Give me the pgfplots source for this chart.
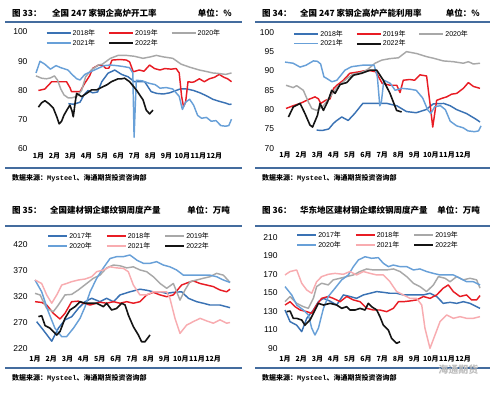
\documentclass[border=0pt]{standalone}
\usepackage{pgfplots}
\pgfplotsset{compat=1.18}
\usepackage{fontspec}
\setmainfont{Liberation Sans}
\newfontfamily\cjk{Noto Sans CJK SC}
\newfontfamily\monob{Liberation Mono}
\definecolor{cA}{RGB}{58,114,180}
\definecolor{cL}{RGB}{104,160,216}
\definecolor{cR}{RGB}{232,28,36}
\definecolor{cG}{RGB}{168,168,168}
\definecolor{cP}{RGB}{248,172,176}
\definecolor{cK}{RGB}{20,20,20}
\definecolor{rule}{RGB}{68,108,158}
\newcommand{\nian}{{\cjk 年}}
\pgfplotsset{
  panel/.style={
    scale only axis, clip=false, anchor=south west,
    axis line style={draw=none}, tick style={draw=none}, major tick length=0pt,
    xmin=0.85, xmax=13.1, xtick={1,...,12},
    xticklabels={1月,2月,3月,4月,5月,6月,7月,8月,9月,10月,11月,12月},
    /pgf/number format/assume math mode=true,
    yticklabel style={font=\fontsize{8.5}{9}\selectfont},
    xticklabel style={font=\cjk\bfseries\fontsize{7}{8}\selectfont},
    legend columns=3, legend cell align=left,
    legend style={draw=none, fill=none, inner sep=0pt, anchor=north west,
      font=\fontsize{7}{8}\selectfont, row sep=0pt,
      nodes={inner sep=1.2pt}},
    every axis plot/.append style={line width=1.45pt, mark=none, line join=round},
  },
}
\begin{document}
\begin{tikzpicture}[x=1pt,y=1pt]
\fill[white] (0,0) rectangle (500,-393);
\useasboundingbox (0,0) rectangle (500,-393);
\tikzset{ttl/.style={font=\cjk\bfseries\fontsize{8.5}{9}\selectfont, inner sep=0pt},
         src/.style={font=\bfseries\fontsize{7}{8}\selectfont, inner sep=0pt, anchor=west}}
% panel 1
\node[ttl,anchor=west] at (12,-13) {图\ 33：};
\node[ttl,anchor=west] at (52,-13) {全国 247 家钢企高炉开工率};
\node[ttl,anchor=east] at (232,-13) {单位：\%};
\draw[rule,line width=1.8pt] (5,-22) -- (242,-22);
\draw[rule,line width=1.8pt] (5,-168) -- (242,-168);
\node[src] at (12,-178) {{\cjk 数据来源：}{\monob\bfseries Mysteel}{\cjk 、海通期货投资咨询部}};
% panel 2
\node[ttl,anchor=west] at (262,-13) {图\ 34：};
\node[ttl,anchor=west] at (300,-13) {全国 247 家钢企高炉产能利用率};
\node[ttl,anchor=east] at (480,-13) {单位：\%};
\draw[rule,line width=1.8pt] (255,-22) -- (490,-22);
\draw[rule,line width=1.8pt] (255,-168) -- (490,-168);
\node[src] at (262,-178) {{\cjk 数据来源：}{\monob\bfseries Mysteel}{\cjk 、海通期货投资咨询部}};
% panel 3
\node[ttl,anchor=west] at (12,-210) {图\ 35：};
\node[ttl,anchor=west] at (50,-210) {全国建材钢企螺纹钢周度产量};
\node[ttl,anchor=east] at (230,-210) {单位：万吨};
\draw[rule,line width=1.8pt] (5,-226) -- (242,-226);
\draw[rule,line width=1.8pt] (5,-368) -- (242,-368);
\node[src] at (12,-378) {{\cjk 数据来源：}{\monob\bfseries Mysteel}{\cjk 、海通期货投资咨询部}};
% panel 4
\node[ttl,anchor=west] at (262,-210) {图\ 36：};
\node[ttl,anchor=west] at (300,-210) {华东地区建材钢企螺纹钢周度产量};
\node[ttl,anchor=east] at (480,-210) {单位：万吨};
\draw[rule,line width=1.8pt] (255,-226) -- (490,-226);
\draw[rule,line width=1.8pt] (255,-368) -- (490,-368);
\node[src] at (262,-378) {{\cjk 数据来源：}{\monob\bfseries Mysteel}{\cjk 、海通期货投资咨询部}};
\node[font=\cjk\bfseries\fontsize{10}{11}\selectfont, text=black!25, anchor=east] at (482,-370) {海通期货};

% ================= AXIS 1
\begin{axis}[panel, at={(36pt,-149pt)}, width=196pt, height=117pt,
  ymin=60, ymax=100, ytick={60,70,80,90,100}, yticklabel style={xshift=-5pt},
  legend style={at={(axis description cs:0.05,1.035)},
    /tikz/every even column/.append style={column sep=12pt}},
  legend image code/.code={\draw[#1] (0pt,0pt)--(24pt,0pt);}]
\addplot[cA] coordinates {(2.87,75.5)(3.2,75.3)(3.6,76)(3.85,78.5)(4.1,80)(4.4,79.2)(4.7,79.5)(4.96,83)(5.35,85.9)(5.77,87)(6.2,85.5)(6.6,84.7)(7.0,83)(7.64,83)(8.05,79.6)(8.4,79)(8.8,78.8)(9.2,79.2)(9.6,80)(9.9,80.6)(10.3,80.5)(10.7,80)(11.1,79.2)(11.5,78.2)(11.9,77)(12.3,76.3)(12.7,75.7)(12.95,75.2)(13.07,75.4)};
\addlegendentry{2018\nian}
\addplot[cR] coordinates {(1.0,80)(1.4,80.5)(1.83,83)(2.3,83)(2.76,83)(2.97,81)(3.07,79.6)(3.35,79.6)(3.6,79.6)(3.9,82.5)(4.2,85)(4.4,87.6)(4.76,88.7)(5.0,88.7)(5.2,87.6)(5.4,87.6)(5.6,90.4)(6.1,90.6)(6.5,90.4)(6.7,89.8)(6.93,86.4)(7.3,87)(7.6,86.6)(7.95,88.7)(8.26,87.5)(8.6,87)(8.9,87.5)(9.3,87.3)(9.61,87.5)(9.8,86)(9.95,78)(10.07,74.5)(10.2,76)(10.35,83)(10.6,82.8)(10.75,83)(11.06,84)(11.37,83)(11.68,84)(12.0,84.5)(12.3,85.5)(12.6,84.5)(12.83,84)(13.07,83)};
\addlegendentry{2019\nian}
\addplot[cG] coordinates {(0.85,85)(1.2,84.2)(1.5,84)(1.75,84.3)(2.0,85)(2.2,83.5)(2.4,80.5)(2.6,78.5)(2.85,77.5)(3.1,77.5)(3.4,78)(3.7,80)(3.95,84.7)(4.3,87)(4.75,88.7)(5.0,89)(5.5,91)(5.98,92)(6.5,92)(7.0,91.7)(7.54,91)(8.0,91.5)(8.37,92)(8.8,91.5)(9.4,91)(9.92,89)(10.44,88)(11.06,87)(11.5,86.5)(11.89,86)(12.3,85.8)(12.7,85.5)(13.07,86)};
\addlegendentry{2020\nian}
\addplot[cL] coordinates {(0.85,86)(1.1,90)(1.4,89)(1.75,87.3)(2.1,88.5)(2.4,87.8)(2.85,87)(3.1,85.5)(3.4,84)(3.6,83.6)(3.9,85.5)(4.3,86.5)(4.7,87.5)(5.1,88.5)(5.5,88.7)(5.9,88.5)(6.3,88.2)(6.7,87.8)(6.9,86)(6.98,64)(7.05,74)(7.12,83.5)(7.5,83.3)(7.9,82.5)(8.3,82)(8.6,80.8)(9.0,81)(9.4,80.5)(9.8,78)(10.0,73.5)(10.2,76)(10.45,77)(10.7,75)(10.95,71.5)(11.2,70.5)(11.5,70.8)(11.8,69.5)(12.1,69.7)(12.4,68)(12.7,67.8)(12.9,68)(13.07,70.2)};
\addlegendentry{2021\nian}
\addplot[cK, line width=1.6pt] coordinates {(1.0,74.3)(1.2,75.8)(1.41,76.5)(1.65,75.5)(1.93,74)(2.15,71)(2.3,68.6)(2.45,69.5)(2.6,71.6)(2.8,73.5)(2.97,75)(3.1,73)(3.18,71)(3.3,76)(3.39,79)(3.7,77.9)(4.01,79)(4.32,80.2)(4.63,80.2)(5.04,81.3)(5.3,82)(5.56,83)(5.98,84)(6.2,84)(6.39,84.2)(6.7,83)(7.12,80.2)(7.54,76.8)(7.74,73.3)(7.95,72)(8.16,73.3)};
\addlegendentry{2022\nian}
\end{axis}

% ================= AXIS 2
\begin{axis}[panel, at={(282.6pt,-148.3pt)}, width=198.4pt, height=116pt,
  ymin=70, ymax=100, ytick={70,75,80,85,90,95,100}, yticklabel style={xshift=-5pt},
  legend style={at={(axis description cs:0.055,1.03)},
    /tikz/every even column/.append style={column sep=12pt}},
  legend image code/.code={\draw[#1] (0pt,0pt)--(24pt,0pt);}]
\addplot[cA] coordinates {(2.95,74.7)(3.3,74.6)(3.7,75)(4.0,76.5)(4.2,77.2)(4.5,78.1)(4.9,77.2)(5.3,79)(5.8,81.6)(6.5,81.6)(7.3,81.6)(7.9,81)(8.5,79.5)(9.1,79.2)(9.7,80)(10.16,81.5)(10.8,81.6)(11.2,81)(11.6,80)(12.2,79)(12.8,77.5)(13.04,76.8)};
\addlegendentry{2018\nian}
\addplot[cR] coordinates {(1.06,80.3)(1.5,81)(1.93,81.6)(2.44,82.6)(2.85,83.3)(3.06,82.8)(3.2,81.6)(3.5,82.4)(3.78,82.8)(4.0,85.5)(4.2,86.3)(4.6,87.6)(5.0,89.4)(5.6,89.8)(6.1,90.2)(6.6,89.8)(7.0,86.8)(7.5,86.3)(7.9,86.3)(8.1,84.4)(8.3,87.6)(8.7,87.8)(9.0,87.6)(9.33,89)(9.74,88.7)(9.95,81.6)(10.12,75.5)(10.36,82.4)(10.67,82.9)(10.98,83.3)(11.29,84)(11.6,84.2)(12.01,85.5)(12.32,87)(12.63,86)(13.04,85.5)};
\addlegendentry{2019\nian}
\addplot[cG] coordinates {(1.06,86.3)(1.5,85.7)(1.72,86.2)(2.13,85)(2.44,82)(2.65,80.3)(2.95,79.8)(3.37,81)(3.78,83.3)(4.19,85.7)(4.6,87.2)(4.81,88)(5.2,89.2)(5.63,89.5)(6.04,90.2)(6.56,92)(6.97,92.8)(7.48,93.2)(8.0,93.4)(8.5,95)(9.13,94.5)(9.74,93.7)(10.16,93.3)(10.77,92.6)(11.39,92.4)(12.01,92)(12.32,92.4)(12.63,91.8)(13.04,92)};
\addlegendentry{2020\nian}
\addplot[cL] coordinates {(1.0,92.3)(1.5,92)(1.93,91)(2.3,91.5)(2.75,92.6)(3.0,92.5)(3.2,91.8)(3.4,88.5)(3.6,88)(3.9,87.2)(4.2,87.6)(4.7,90.2)(5.1,91.1)(5.8,91.5)(6.5,91.5)(6.7,88.5)(6.85,81)(6.95,82)(7.1,87.6)(7.5,86.8)(7.8,85)(8.2,85.5)(8.7,85.3)(9.1,85)(9.5,83)(9.8,80)(10.0,79)(10.25,80.8)(10.6,81)(10.9,80)(11.2,77)(11.6,75.8)(12.0,75.3)(12.3,74.5)(12.7,74.3)(12.95,74.5)(13.1,75.8)};
\addlegendentry{2021\nian}
\addplot[cK, line width=1.6pt] coordinates {(1.21,78.1)(1.51,80.7)(1.93,81.6)(2.23,79)(2.54,76)(2.7,75.5)(3.0,78.5)(3.16,81.6)(3.37,79.8)(3.67,82.4)(3.88,85)(4.09,84.2)(4.4,86.5)(4.81,87)(5.22,88.9)(5.73,89.4)(6.25,90.2)(6.66,90.2)(7.07,87.6)(7.48,84.2)(7.89,79.8)(8.2,79.4)};
\addlegendentry{2022\nian}
\end{axis}

% ================= AXIS 3
\begin{axis}[panel, at={(32.6pt,-349pt)}, width=198.4pt, height=104pt,
  ymin=220, ymax=420, ytick={220,270,320,370,420}, yticklabel style={xshift=-1.5pt},
  xticklabel style={yshift=-3.5pt},
  legend style={at={(axis description cs:0.075,1.135)},
    /tikz/every even column/.append style={column sep=13pt}},
  legend image code/.code={\draw[#1] (0pt,0pt)--(19pt,0pt);}]
\addplot[cA] coordinates {(1.1,272.6)(1.51,256.5)(2.03,235)(2.44,260)(2.85,276)(3.26,282)(3.67,298)(4.09,311)(4.5,317.5)(5.01,311)(5.42,317.5)(5.84,311)(6.25,324)(6.86,330)(7.48,335)(7.89,333)(8.3,330)(8.72,330)(9.13,327)(9.54,329)(10.05,330)(10.47,317.5)(10.98,311)(11.39,308)(11.8,304.6)(12.42,304.6)(13.04,299.5)};
\addlegendentry{2017\nian}
\addplot[cR] coordinates {(1.0,311)(1.41,309.5)(1.72,304.6)(2.13,288.6)(2.54,277.7)(2.85,288.6)(3.26,311)(3.67,312)(3.98,308)(4.4,304.6)(5.01,310)(5.42,308)(5.84,311)(6.25,308)(6.66,311)(7.07,308)(7.48,311)(7.89,324)(8.3,329)(8.72,324)(9.13,320.6)(9.54,324)(10.05,343)(10.47,348)(10.77,351)(11.19,346)(11.6,343)(12.01,340)(12.42,333.5)(12.83,330)(13.04,335)};
\addlegendentry{2018\nian}
\addplot[cG] coordinates {(1.0,327)(1.31,324)(1.72,298)(2.13,291.8)(2.44,304.6)(2.85,324)(3.26,325)(3.67,333.5)(4.19,346)(4.6,356)(5.01,362)(5.42,376)(5.84,381.5)(6.25,380)(6.66,376)(7.07,378)(7.48,372)(7.89,368.7)(8.3,359)(8.72,346)(9.13,336.7)(9.54,346)(9.95,314)(10.26,333.5)(10.57,349.5)(10.98,352.7)(11.39,356)(11.8,359)(12.21,365.5)(12.63,362)(13.04,348)};
\addlegendentry{2019\nian}
\addplot[cL] coordinates {(1.0,352.7)(1.41,330)(1.82,291.8)(2.23,260)(2.65,243.7)(2.95,243.7)(3.37,260)(3.78,279)(4.09,301.4)(4.4,330)(4.81,356)(5.22,376)(5.63,394)(6.04,397.6)(6.45,397.6)(6.86,400.8)(7.28,391)(7.69,384.7)(8.1,384.7)(8.51,388)(8.92,381.5)(9.33,378)(9.74,372)(10.16,362)(10.57,362)(10.98,362)(11.39,362)(11.8,362)(12.21,359)(12.63,352.7)(13.04,348)};
\addlegendentry{2020\nian}
\addplot[cP] coordinates {(1.0,352.7)(1.41,346)(1.72,324)(2.03,308)(2.34,324)(2.65,343)(2.95,346)(3.26,349.5)(3.67,352.7)(4.09,354.6)(4.5,359)(4.81,368.7)(5.22,372)(5.63,378)(6.04,376)(6.45,375)(6.76,368.7)(7.07,343)(7.48,324)(7.89,324)(8.3,330)(8.72,330)(9.13,330)(9.33,317.5)(9.64,279)(9.95,250)(10.36,266)(10.77,272.6)(11.19,279)(11.6,274)(12.01,269.6)(12.42,276)(12.83,269.6)(13.04,271)};
\addlegendentry{2021\nian}
\addplot[cK, line width=1.6pt] coordinates {(1.21,282.2)(1.41,284)(1.62,265)(1.93,260)(2.13,253.5)(2.34,247)(2.54,253.5)(2.85,279)(3.16,295)(3.47,301.4)(3.78,311)(4.09,308)(4.4,308)(4.81,308)(5.22,301.4)(5.42,308)(5.73,295)(6.04,298)(6.35,308)(6.56,304.6)(6.76,285.4)(7.07,263)(7.38,247)(7.58,234)(7.79,234)(8.1,247)};
\addlegendentry{2022\nian}
\end{axis}

% ================= AXIS 4
\begin{axis}[panel, at={(282.6pt,-348.3pt)}, width=198.4pt, height=111pt,
  ymin=90, ymax=210, ytick={90,110,130,150,170,190,210}, yticklabel style={xshift=-1.5pt},
  xticklabel style={yshift=-3.5pt},
  legend style={at={(axis description cs:0.07,1.065)},
    /tikz/every even column/.append style={column sep=13pt}},
  legend image code/.code={\draw[#1] (0pt,0pt)--(19pt,0pt);}]
\addplot[cA] coordinates {(1.0,131.4)(1.31,118.8)(1.72,115)(2.03,108)(2.34,122.4)(2.75,131.4)(3.06,140.4)(3.37,144)(3.78,141)(4.19,136.8)(4.6,147.7)(5.01,146)(5.42,144)(5.84,147.7)(6.25,149.5)(6.66,151.3)(7.07,150.5)(7.48,149.5)(7.89,149.5)(8.3,147.7)(8.72,147.7)(9.13,147.7)(9.54,147.7)(9.95,149.5)(10.36,146)(10.77,138.6)(11.19,139.7)(11.6,138.6)(12.01,140.4)(12.42,138.6)(12.83,135)(13.04,133.2)};
\addlegendentry{2017\nian}
\addplot[cR] coordinates {(1.0,136.8)(1.31,140.4)(1.62,135)(1.93,131.4)(2.34,129.6)(2.65,127.8)(2.95,136.8)(3.26,144)(3.67,146)(3.98,144)(4.4,140.4)(4.81,146)(5.22,142.3)(5.63,140.4)(6.04,133.2)(6.45,131.4)(6.86,131.4)(7.28,129.6)(7.69,133.2)(8.0,140.4)(8.3,140.4)(8.72,141.2)(9.13,142.3)(9.54,146)(9.95,144)(10.36,147.7)(10.77,155)(11.08,158.5)(11.39,151.3)(11.8,146)(12.21,147.7)(12.52,142.3)(12.83,142.3)(13.04,147)};
\addlegendentry{2018\nian}
\addplot[cG] coordinates {(1.0,140.4)(1.31,146)(1.72,138.6)(2.13,135)(2.44,133.2)(2.75,144)(2.95,156.7)(3.26,160.3)(3.67,158.5)(3.98,164)(4.4,165.7)(4.81,167.5)(5.22,169.3)(5.63,173)(6.04,175.8)(6.45,174.7)(6.86,174.7)(7.28,174.7)(7.69,175.8)(8.1,173)(8.51,167.5)(8.92,160.3)(9.33,156.7)(9.74,151.3)(10.16,158.5)(10.47,167.5)(10.88,165.7)(11.19,162)(11.6,167.5)(12.01,164)(12.42,165.7)(12.83,164)(13.04,155)};
\addlegendentry{2019\nian}
\addplot[cL] coordinates {(1.0,156.7)(1.41,147.7)(1.72,136.8)(2.13,131.4)(2.44,126)(2.65,111.6)(2.85,104.4)(3.06,111.6)(3.37,133.2)(3.67,146)(4.09,155)(4.5,164)(4.91,169.3)(5.22,178.3)(5.53,185.5)(5.94,189)(6.35,187.3)(6.76,188)(7.07,181.9)(7.38,178.3)(7.69,180)(8.1,178.3)(8.51,178.3)(8.92,174.7)(9.33,175.8)(9.74,173)(10.16,171)(10.57,169.3)(10.98,169.3)(11.39,169.3)(11.8,165.7)(12.21,162)(12.63,162)(13.04,158.5)};
\addlegendentry{2020\nian}
\addplot[cP] coordinates {(1.0,169.3)(1.31,173)(1.72,174.7)(2.03,160.3)(2.34,153)(2.65,149.5)(2.95,162)(3.26,167.5)(3.67,170)(4.09,171)(4.6,170)(5.01,173)(5.42,169.3)(5.84,173)(6.25,171)(6.66,169.3)(7.07,169.3)(7.48,162)(7.89,151.3)(8.3,147.7)(8.72,144)(9.13,144)(9.44,136.8)(9.64,111.6)(9.95,90)(10.26,104.4)(10.57,118.8)(10.98,126)(11.39,122.4)(11.8,124.2)(12.21,122.4)(12.63,122.4)(13.04,124.2)};
\addlegendentry{2021\nian}
\addplot[cK, line width=1.6pt] coordinates {(1.1,129.6)(1.31,130.3)(1.51,122.4)(1.72,122.4)(2.03,120.6)(2.23,115)(2.54,120.6)(2.75,127.8)(3.06,138.6)(3.37,136.8)(3.78,138.6)(4.19,136.8)(4.5,133.2)(4.81,135)(5.01,131.4)(5.32,131.4)(5.63,133.2)(5.94,131.4)(6.14,138.6)(6.35,135)(6.66,131.4)(6.86,124.2)(7.07,115)(7.38,109.6)(7.58,100.8)(7.89,95.4)(8.1,97.2)};
\addlegendentry{2022\nian}
\end{axis}
\end{tikzpicture}
\end{document}
